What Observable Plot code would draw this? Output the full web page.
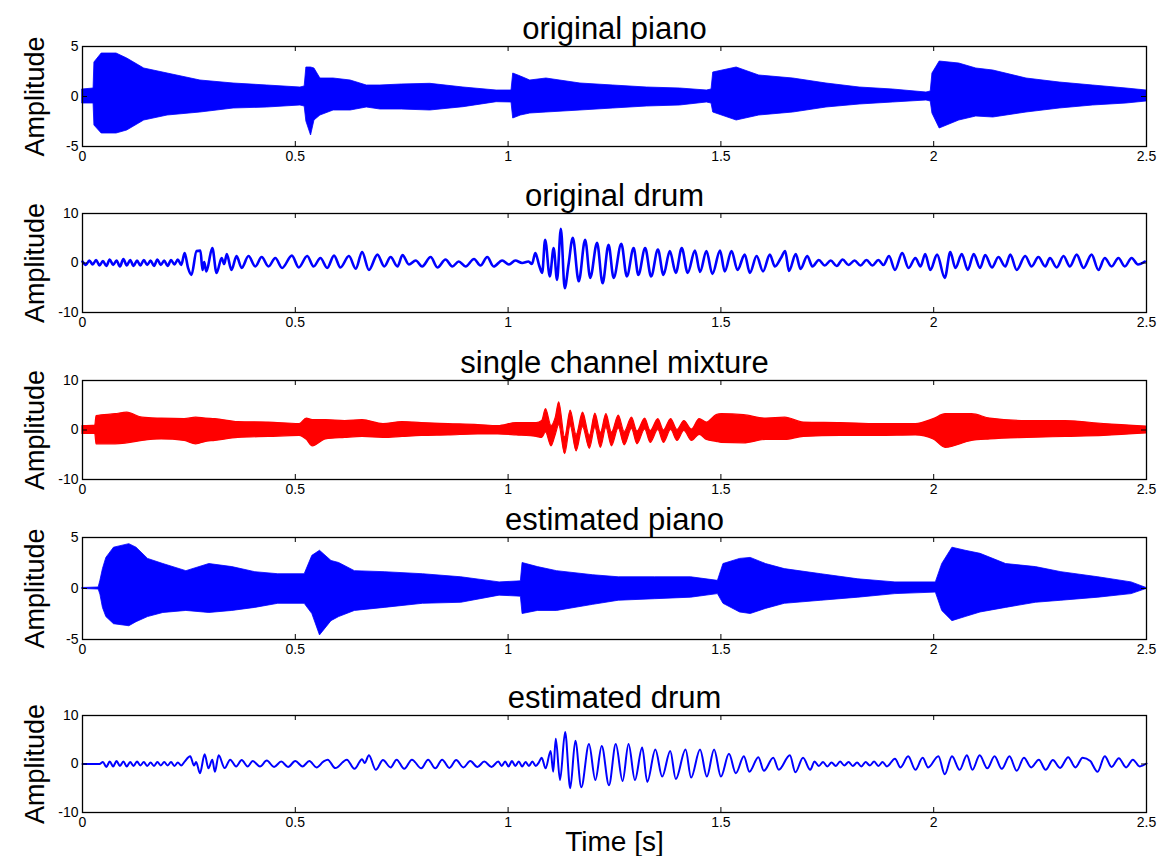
<!DOCTYPE html>
<html>
<head>
<meta charset="utf-8">
<script src="https://cdn.jsdelivr.net/npm/d3@7"></script>
<script src="https://cdn.jsdelivr.net/npm/@observablehq/plot@0.6"></script>
<style>
  body { margin: 0; background: #fff; }
  #fig { position: relative; width: 1160px; height: 856px; background: #fff; overflow: hidden; }
  #fig svg { position: absolute; left: 0; overflow: visible; }
</style>
</head>
<body>
<div id="fig"></div>
<script>
// ---- shared axis settings ----
const xTicks = [0, 0.5, 1, 1.5, 2, 2.5];
const titles = ["original piano", "original drum", "single channel mixture", "estimated piano", "estimated drum"];
const yLimits = [5, 10, 10, 5, 10];

// ---- original piano: envelope (min / max) of the waveform over time ----
const origPianoT  = [0, 0.026, 0.028, 0.045, 0.08, 0.105, 0.145, 0.2, 0.277, 0.355, 0.434, 0.512, 0.522, 0.526, 0.537, 0.545, 0.559, 0.59, 0.63, 0.668, 0.7, 0.75, 0.817, 0.895, 0.973, 1.008, 1.012, 1.03, 1.052, 1.09, 1.17, 1.247, 1.326, 1.404, 1.467, 1.478, 1.482, 1.537, 1.59, 1.67, 1.748, 1.826, 1.904, 1.983, 1.993, 1.997, 2.014, 2.06, 2.1, 2.14, 2.218, 2.296, 2.374, 2.453, 2.5];
const origPianoLo = [-0.7, -0.7, -2.9, -3.7, -3.7, -3.4, -2.4, -1.9, -1.6, -1.2, -1.1, -0.9, -1.0, -2.5, -3.9, -2.4, -1.9, -1.4, -1.4, -1.1, -1.3, -1.3, -1.4, -1.07, -0.57, -0.6, -2.2, -1.9, -1.7, -1.6, -1.4, -1.2, -1.0, -0.9, -0.6, -0.7, -1.6, -2.4, -1.9, -1.6, -1.1, -0.8, -0.6, -0.4, -0.5, -1.7, -3.2, -2.4, -2.0, -2.1, -1.6, -1.2, -0.9, -0.7, -0.5];
const origPianoHi = [0.7, 0.8, 3.4, 4.3, 4.3, 3.8, 2.8, 2.3, 1.6, 1.3, 1.1, 0.9, 1.0, 2.9, 2.9, 2.8, 1.8, 1.8, 1.6, 1.1, 1.1, 1.2, 1.27, 0.9, 0.6, 0.6, 2.3, 2.0, 1.6, 1.8, 1.3, 1.1, 0.9, 0.8, 0.6, 0.7, 2.4, 2.9, 2.1, 1.8, 1.3, 0.9, 0.7, 0.4, 0.5, 2.3, 3.5, 3.3, 2.8, 2.6, 1.8, 1.4, 1.1, 0.8, 0.6];

// ---- original drum: successive peaks and troughs ----
const origDrumT = [0, 0.008, 0.016, 0.024, 0.032, 0.04, 0.048, 0.056, 0.064, 0.072, 0.08, 0.088, 0.096, 0.104, 0.112, 0.12, 0.128, 0.136, 0.144, 0.152, 0.16, 0.168, 0.176, 0.184, 0.192, 0.2, 0.208, 0.216, 0.224, 0.232,
  0.24, 0.248, 0.256, 0.268, 0.277, 0.282, 0.286, 0.291, 0.305, 0.315, 0.327, 0.333, 0.339, 0.35, 0.362, 0.374, 0.39, 0.406, 0.421, 0.437, 0.453, 0.469, 0.492, 0.508, 0.528, 0.543, 0.559, 0.575, 0.591, 0.606, 0.626, 0.642, 0.657, 0.673, 0.693, 0.709,
  0.724, 0.74, 0.752, 0.767, 0.783, 0.798, 0.818, 0.834, 0.853, 0.869, 0.884, 0.9, 0.92, 0.935, 0.951, 0.966, 0.986, 1.002, 1.017, 1.033, 1.048, 1.056, 1.064, 1.073, 1.08, 1.087, 1.098, 1.107, 1.115, 1.124, 1.133, 1.142, 1.152, 1.166, 1.181, 1.193, 1.209, 1.222, 1.236, 1.248, 1.266, 1.279, 1.295, 1.306, 1.322, 1.336, 1.352, 1.365, 1.38, 1.394, 1.408, 1.422, 1.439, 1.451, 1.466, 1.48, 1.498, 1.509, 1.525, 1.539, 1.556, 1.568, 1.584, 1.599, 1.615, 1.627, 1.641,
  1.651, 1.66, 1.676, 1.687, 1.703, 1.715, 1.73, 1.744, 1.758, 1.772, 1.786, 1.8, 1.814, 1.828, 1.842, 1.856, 1.87, 1.882, 1.895, 1.909, 1.926, 1.941, 1.957, 1.969, 1.98, 1.992, 2.008, 2.026, 2.039, 2.051, 2.066, 2.08, 2.094, 2.109, 2.121, 2.137, 2.152, 2.168, 2.18, 2.195, 2.215, 2.23, 2.246, 2.262, 2.273, 2.289, 2.305, 2.32, 2.336, 2.352, 2.371, 2.387, 2.402, 2.418, 2.434, 2.449, 2.465, 2.48, 2.496];
const origDrumV = [0.3, -0.4, 0.5, -0.3, 0.6, -0.5, 0.4, -0.6, 0.7, -0.4, 0.5, -0.7, 0.8, -0.5, 0.6, -0.6, 0.5, -0.5, 0.6, -0.4, 0.5, -0.6, 0.7, -0.4, 0.5, -0.6, 0.6, -0.3, 0.7, -0.4,
  2.0, -1.0, -2.4, 2.4, 2.5, -1.4, 0.2, -1.7, 3.0, -2.0, 1.0, -0.2, 1.8, -1.4, 1.4, -1.0, 1.4, -0.7, 1.2, -0.7, 1.0, -1.0, 1.5, -0.9, 1.4, -0.7, 1.0, -1.0, 1.5, -0.9, 1.4, -1.15, 2.2, -1.4, 1.7, -0.7,
  1.2, -0.7, 1.6, -0.3, 0.5, -0.7, 1.2, -0.9, 0.7, -0.7, 0.3, -0.7, 0.8, -0.5, 1.2, -0.7, 0.5, -0.3, 0.5, 0.0, 0.3, -0.2, 2.0, -0.5, -2.0, 4.7, -2.7, 3.0, -3.4, 6.9, -5.1, -0.3, 5.1, -3.7, 4.7, -3.0, 4.1, -4.1, 3.7, -3.0, 3.9, -2.7, 3.0, -2.4, 3.0, -2.7, 2.7, -2.4, 2.4, -2.0, 3.0, -2.0, 2.5, -1.8, 2.4, -2.2, 2.5, -1.7, 2.4, -1.4, 1.7, -2.0, 1.4, -1.7, 1.7, -0.7, 1.0,
  2.4, -1.6, 1.8, -1.2, 1.4, -0.7, 0.6, -0.5, 0.5, -0.6, 0.7, -0.4, 0.5, -0.5, 0.6, -0.5, 0.6, -0.4, 1.4, -1.4, 2.0, -1.0, 1.0, -0.7, 1.8, -1.4, 1.7, -3.0, 2.2, -1.0, 1.8, -1.4, 1.8, -1.0, 1.6, -0.9, 1.2, -0.7, 1.7, -1.4, 1.4, -0.7, 1.2, -0.7, 1.0, -0.9, 1.4, -0.7, 1.7, -1.0, 1.7, -1.4, 1.0, -0.7, 1.0, -0.7, 1.0, -0.3, 0.3];

// ---- single channel mixture: envelope (the drum swing shows through from 1.08 s) ----
const mixT  = [0, 0.03, 0.033, 0.078, 0.105, 0.141, 0.186, 0.24, 0.267, 0.29, 0.312, 0.366, 0.438, 0.51, 0.527, 0.541, 0.572, 0.617, 0.658, 0.707, 0.752, 0.797, 0.86, 0.93, 0.977, 1.02, 1.067,
  1.08, 1.089, 1.102, 1.112, 1.12, 1.134, 1.147, 1.161, 1.176, 1.192, 1.205, 1.218, 1.231, 1.244, 1.26, 1.274, 1.291, 1.304, 1.322, 1.335, 1.353, 1.366, 1.383, 1.398, 1.414, 1.432, 1.45, 1.467,
  1.49, 1.502, 1.554, 1.607, 1.651, 1.695, 1.782, 1.87, 1.958, 2.0, 2.028, 2.09, 2.133, 2.22, 2.31, 2.4, 2.5];
const mixLo = [-0.8, -0.8, -2.9, -2.9, -2.7, -2.2, -1.9, -2.2, -2.9, -2.4, -2.2, -1.6, -1.4, -1.2, -2.0, -3.3, -1.9, -1.6, -1.4, -1.6, -1.4, -1.2, -1.1, -0.9, -0.9, -1.1, -1.4,
  -1.6, -0.5, -3.3, -1.0, 1.0, -4.9, 0.8, -4.3, 0.6, -3.8, 0.4, -3.6, 0.4, -3.3, 0.3, -3.1, 0.2, -2.9, 0.1, -2.6, 0.0, -2.6, 0.0, -2.2, -0.2, -2.2, -1.0, -2.0,
  -2.4, -2.6, -2.7, -2.0, -2.0, -1.4, -1.2, -1.2, -1.1, -1.9, -3.6, -2.2, -1.9, -1.6, -1.4, -1.2, -0.7];
const mixHi = [0.8, 0.9, 2.8, 3.2, 3.5, 2.5, 2.3, 2.2, 2.5, 2.3, 2.2, 1.6, 1.5, 1.2, 2.3, 2.0, 2.0, 1.8, 2.0, 1.2, 1.6, 1.4, 1.2, 1.0, 0.8, 1.4, 1.4,
  1.8, 4.2, 0.8, 2.5, 5.6, -1.5, 3.9, -1.0, 3.5, -1.2, 3.3, -0.6, 3.2, -0.5, 2.9, -0.4, 2.5, -0.3, 2.3, -0.2, 2.2, -0.1, 2.2, 0.0, 1.8, 0.1, 2.2, 1.5,
  3.0, 3.2, 3.0, 2.3, 2.5, 1.5, 1.4, 1.2, 1.2, 2.2, 3.2, 3.2, 2.3, 1.8, 1.8, 1.2, 0.7];

// ---- estimated piano: envelope ----
const estPianoT  = [0, 0.038, 0.042, 0.048, 0.056, 0.074, 0.11, 0.127, 0.154, 0.19, 0.244, 0.298, 0.352, 0.406, 0.46, 0.522, 0.54, 0.558, 0.585, 0.603, 0.64, 0.71, 0.8, 0.89, 0.98, 1.03, 1.034, 1.07, 1.115, 1.2, 1.26, 1.345, 1.43, 1.493, 1.506, 1.545, 1.57, 1.606, 1.65, 1.736, 1.823, 1.91, 2.005, 2.02, 2.044, 2.075, 2.11, 2.17, 2.24, 2.3, 2.387, 2.465, 2.5];
const estPianoLo = [-0.05, -0.1, -0.6, -1.9, -2.8, -3.5, -3.7, -3.3, -2.8, -2.4, -2.2, -2.4, -2.2, -1.9, -1.5, -1.5, -2.5, -4.6, -3.2, -2.8, -2.2, -1.9, -1.5, -1.4, -0.7, -0.8, -2.5, -2.2, -2.2, -1.6, -1.2, -1.05, -0.9, -0.55, -1.5, -2.35, -2.5, -2.0, -1.5, -1.2, -0.9, -0.55, -0.4, -2.2, -3.2, -2.8, -2.35, -1.9, -1.4, -1.2, -0.9, -0.55, -0.05];
const estPianoHi = [0.05, 0.1, 0.75, 1.9, 3.0, 4.0, 4.35, 4.0, 2.9, 2.4, 1.7, 2.4, 2.1, 1.6, 1.4, 1.4, 3.2, 3.7, 2.7, 2.5, 1.7, 1.6, 1.4, 1.1, 0.6, 0.7, 2.5, 2.1, 1.7, 1.3, 1.1, 1.1, 1.1, 0.75, 2.4, 2.9, 3.0, 2.4, 1.9, 1.4, 0.9, 0.6, 0.6, 2.4, 4.0, 3.7, 3.4, 2.4, 2.1, 1.6, 1.1, 0.6, 0.05];

// ---- estimated drum: successive peaks and troughs ----
const estDrumT = [0, 0.04, 0.048, 0.056, 0.064, 0.072, 0.08, 0.088, 0.096, 0.104, 0.112, 0.12, 0.128, 0.136, 0.144, 0.152, 0.16, 0.168, 0.176, 0.184, 0.192, 0.2, 0.208, 0.216, 0.224, 0.232, 0.24,
  0.253, 0.262, 0.267, 0.276, 0.287, 0.296, 0.305, 0.311, 0.32, 0.334, 0.347, 0.361, 0.374, 0.388, 0.4, 0.417, 0.433, 0.45, 0.467, 0.483, 0.5, 0.517, 0.533, 0.55, 0.566, 0.576, 0.594, 0.621, 0.639, 0.657, 0.663, 0.673, 0.689, 0.706, 0.724, 0.738, 0.756, 0.774, 0.796, 0.812, 0.829, 0.845, 0.862, 0.878, 0.895, 0.911, 0.928, 0.944, 0.961, 0.977,
  0.985, 0.993, 1.001, 1.009, 1.017, 1.025, 1.033, 1.041, 1.049, 1.057, 1.065, 1.072, 1.079, 1.088, 1.1, 1.106, 1.112, 1.122, 1.134, 1.146, 1.158, 1.172, 1.19, 1.205, 1.22, 1.237, 1.253, 1.269, 1.283, 1.298, 1.315, 1.327, 1.346, 1.362, 1.381, 1.394, 1.417, 1.43, 1.451, 1.467, 1.484, 1.5, 1.519, 1.535, 1.554, 1.567, 1.588, 1.601, 1.623, 1.636, 1.662, 1.675, 1.693, 1.71,
  1.72, 1.73, 1.74, 1.75, 1.76, 1.77, 1.78, 1.79, 1.8, 1.81, 1.82, 1.83, 1.84, 1.85, 1.86, 1.87, 1.88, 1.89, 1.909, 1.922, 1.94, 1.957, 1.974, 1.987, 2.011, 2.026, 2.043, 2.061, 2.078, 2.091, 2.108, 2.126, 2.143, 2.16, 2.178, 2.195, 2.212, 2.229, 2.247, 2.263, 2.28, 2.297, 2.316, 2.333, 2.35, 2.368, 2.385, 2.402, 2.418, 2.435, 2.452, 2.468, 2.484, 2.5];
const estDrumV = [0, 0, 0.4, -0.6, 0.5, -0.5, 0.6, -0.4, 0.5, -0.5, 0.4, -0.4, 0.5, -0.3, 0.4, -0.4, 0.3, -0.4, 0.4, -0.3, 0.4, -0.3, 0.4, -0.4, 0.3, -0.3, 0.5,
  1.6, -0.3, 0.4, -1.9, 2.0, -0.9, 0.9, -1.6, 1.8, -0.85, 0.9, -0.5, 0.8, -0.5, 0.6, -0.5, 0.7, -0.6, 0.5, -0.6, 0.6, -0.5, 0.6, -0.7, 0.5, 0.9, -0.85, 0.9, -1.0, 1.0, 0.2, 1.8, -1.2, 0.8, -0.7, 0.9, -1.0, 0.9, -0.9, 0.9, -0.9, 0.9, -0.8, 0.8, -0.7, 0.6, -0.6, 0.5, -0.6, 0.5,
  -0.4, 0.5, -0.5, 0.6, -0.4, 0.5, -0.5, 0.4, -0.4, 0.5, -0.4, 0.3, 1.3, -0.9, 2.7, -1.6, 5.2, -3.3, 6.6, -5.0, 4.8, -4.8, 4.1, -3.3, 3.7, -4.4, 4.1, -3.5, 4.1, -3.3, 3.4, -3.7, 3.0, -2.6, 2.7, -3.1, 3.0, -2.8, 3.0, -2.6, 3.0, -2.6, 2.1, -1.9, 1.6, -1.6, 1.4, -1.4, 1.3, -1.2, 1.8, -1.7, 1.3, -1.2,
  0.5, -0.4, 0.4, -0.5, 0.3, -0.4, 0.5, -0.3, 0.4, -0.4, 0.3, -0.5, 0.4, -0.3, 0.5, -0.4, 0.4, -0.5, 1.1, -0.7, 1.6, -1.2, 1.3, -0.7, 1.6, -2.1, 1.6, -1.2, 1.8, -1.2, 1.8, -0.9, 1.6, -1.0, 1.6, -1.4, 1.3, -0.7, 0.9, -1.2, 0.8, -0.8, 1.4, -0.7, 1.3, 0.6, -1.6, 1.6, -0.6, 1.2, -0.7, 0.9, -0.5, 0.1];

// ---- build tables for the marks ----
const envelope = (T, lo, hi) => T.map((t, i) => ({t, lo: lo[i], hi: hi[i]}));
const trace = (T, V) => T.map((t, i) => ({t, v: V[i]}));

const BLUE = "#0000ff", RED = "#ff0000";
const FONT = "'Liberation Sans', Arial, Helvetica, sans-serif";

const waveMarks = [
  [Plot.areaY(envelope(origPianoT, origPianoLo, origPianoHi), {x: "t", y1: "lo", y2: "hi", fill: BLUE, stroke: BLUE, strokeWidth: 0.8})],
  [Plot.line(trace(origDrumT, origDrumV), {x: "t", y: "v", stroke: BLUE, strokeWidth: 2.6, curve: "monotone-x"})],
  [Plot.areaY(envelope(mixT, mixLo, mixHi), {x: "t", y1: "lo", y2: "hi", fill: RED, stroke: RED, strokeWidth: 1.2, curve: "monotone-x"})],
  [Plot.areaY(envelope(estPianoT, estPianoLo, estPianoHi), {x: "t", y1: "lo", y2: "hi", fill: BLUE, stroke: BLUE, strokeWidth: 0.8})],
  [Plot.line(trace(estDrumT, estDrumV), {x: "t", y: "v", stroke: BLUE, strokeWidth: 2, curve: "monotone-x"})]
];

// frame top / bottom (px) of each subplot
const frames = [[46, 146], [213, 312], [380, 479], [537, 639], [715, 812]];

const fig = document.getElementById("fig");
const ML = 82, MR = 14, W = 1160;

// widen text horizontally by a factor k, keeping its anchor
function widen(svg, selector, k) {
  svg.querySelectorAll(selector).forEach(t => {
    const L = t.getComputedTextLength();
    t.setAttribute("textLength", L * k);
    t.setAttribute("lengthAdjust", "spacingAndGlyphs");
  });
}

frames.forEach(([top, bottom], i) => {
  const h = bottom - top;
  const last = i === frames.length - 1;
  const mt = 44, mb = last ? 44 : 30;
  const ym = yLimits[i];
  const yTicks = [-ym, 0, ym];
  const fw = W - ML - MR;
  const chart = Plot.plot({
    width: W,
    height: h + mt + mb,
    marginLeft: ML, marginRight: MR, marginTop: mt, marginBottom: mb,
    style: {fontFamily: FONT, background: "transparent", color: "#000"},
    x: {domain: [0, 2.5], axis: null},
    y: {domain: [-ym, ym], axis: null},
    marks: [
      ...waveMarks[i],
      Plot.frame({stroke: "#000", strokeWidth: 1.3}),
      // inward ticks on all four sides
      Plot.tickX(xTicks, {x: d => d, insetTop: h - 5, stroke: "#000"}),
      Plot.tickX(xTicks, {x: d => d, insetBottom: h - 5, stroke: "#000"}),
      Plot.tickY(yTicks, {y: d => d, insetRight: fw - 5, stroke: "#000"}),
      Plot.tickY(yTicks, {y: d => d, insetLeft: fw - 5, stroke: "#000"}),
      // tick labels: bottom and left only
      Plot.text(xTicks, {x: d => d, frameAnchor: "bottom", dy: 5, lineAnchor: "top", text: d => String(d), fontSize: 14, fill: "#000", ariaLabel: "xticklabels"}),
      Plot.text(yTicks, {y: d => d, frameAnchor: "left", dx: -4, textAnchor: "end", text: d => String(d), fontSize: 14, fill: "#000", ariaLabel: "yticklabels"}),
      Plot.text([titles[i]], {frameAnchor: "top", dy: -8, lineAnchor: "bottom", fontSize: 31, fill: "#000", ariaLabel: "title"}),
      Plot.text(["Amplitude"], {frameAnchor: "left", textAnchor: "middle", rotate: -90, dx: -47, fontSize: 27, fill: "#000"}),
      ...(last ? [Plot.text(["Time [s]"], {frameAnchor: "bottom", dy: 30, lineAnchor: "middle", fontSize: 28, fill: "#000", ariaLabel: "xlabel"})] : [])
    ]
  });
  chart.style.top = (top - mt) + "px";
  fig.appendChild(chart);
  widen(chart, 'g[aria-label="title"] text', 1.09);
  widen(chart, 'g[aria-label="xticklabels"] text', 1.12);
  widen(chart, 'g[aria-label="yticklabels"] text', 1.12);
  widen(chart, 'g[aria-label="xlabel"] text', 1.22);
});
</script>
</body>
</html>
